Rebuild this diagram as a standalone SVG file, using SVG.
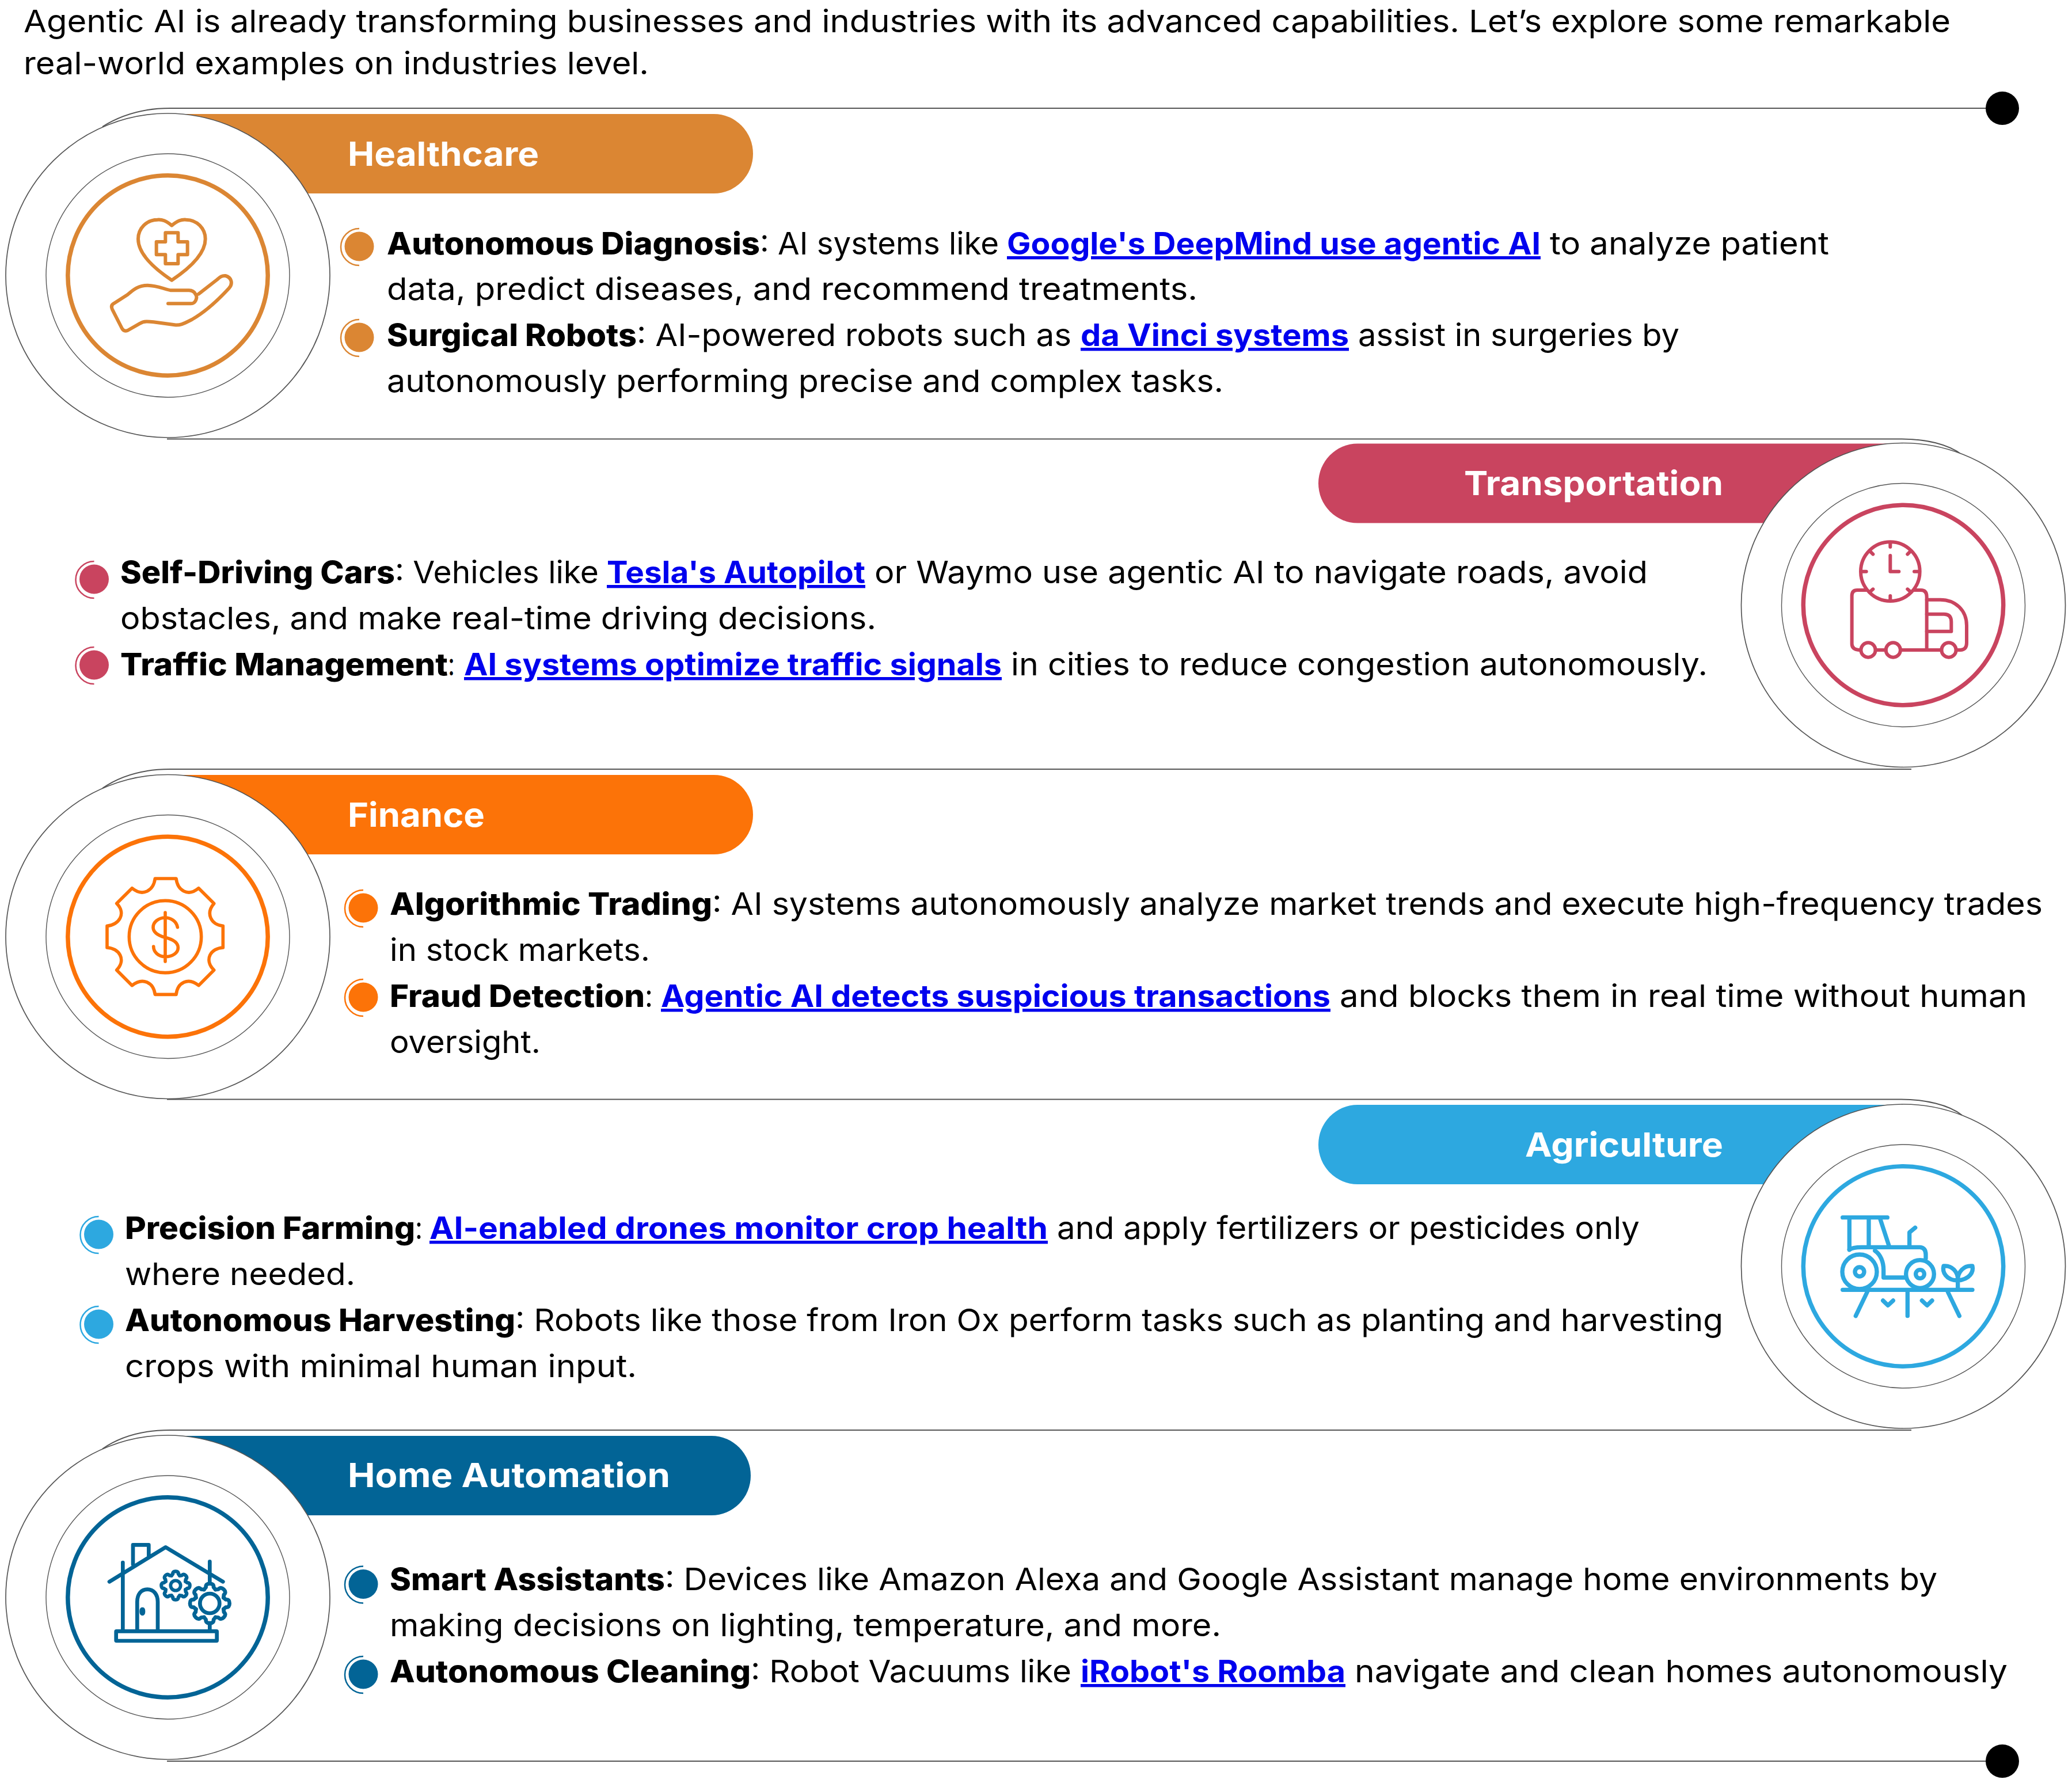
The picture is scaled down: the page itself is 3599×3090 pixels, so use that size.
<svg xmlns="http://www.w3.org/2000/svg" xmlns:xlink="http://www.w3.org/1999/xlink" width="3599" height="3090" viewBox="0 0 3599 3090">
<style>
text{font-family:"Inter","Liberation Sans",sans-serif;font-size:54px;fill:#000;white-space:normal}
.s{font-weight:800}
.l{font-weight:700;fill:#0000EE;text-decoration:underline}
.t{font-weight:700;font-size:58px;fill:#fff}
.ln{fill:none;stroke:#555;stroke-width:2}
.c1{fill:#fff;stroke:#555;stroke-width:1.7}
.c2{fill:none;stroke:#555;stroke-width:1.4}
.ic{fill:none;stroke-linecap:round;stroke-linejoin:round}
.r{fill:none;stroke-width:7.5}
.a{fill:none;stroke-width:2.5}
</style>
<defs>
<path id="tooth" d="M-29.8 -72L-20 -84Q-22 -103 0 -103Q22 -103 20 -84L29.8 -72"/>
<g id="gear">
<use xlink:href="#tooth"/><use xlink:href="#tooth" transform="rotate(45)"/><use xlink:href="#tooth" transform="rotate(90)"/><use xlink:href="#tooth" transform="rotate(135)"/><use xlink:href="#tooth" transform="rotate(180)"/><use xlink:href="#tooth" transform="rotate(225)"/><use xlink:href="#tooth" transform="rotate(270)"/><use xlink:href="#tooth" transform="rotate(315)"/>
</g>
</defs>
<rect width="3599" height="3090" fill="#fff"/>
<g id="intro">
<text y="56"><tspan x="41" textLength="3347" lengthAdjust="spacingAndGlyphs">Agentic AI is already transforming businesses and industries with its advanced capabilities. Let’s explore some remarkable</tspan></text>
<text y="129"><tspan x="41" textLength="1086" lengthAdjust="spacingAndGlyphs">real-world examples on industries level.</tspan></text>
</g>
<g id="connectors">
<path class="ln" d="M3478 188H295C250 188 210 200 178 220"/>
<path class="ln" d="M290 762.5H3300C3345 762 3385 772 3408 790"/>
<path class="ln" d="M3320 1336H295C250 1336 210 1347 178 1369"/>
<path class="ln" d="M290 1909.5H3300C3345 1909.5 3385 1919 3408 1937"/>
<path class="ln" d="M3320 2484H295C250 2484 210 2494.5 178 2516.5"/>
<path class="ln" d="M290 3059H3478"/>
<circle cx="3478" cy="188" r="29" fill="#000"/>
<circle cx="3478" cy="3059" r="29" fill="#000"/>
</g>
<g id="node-healthcare">
<path d="M290 198H1240A68 69 0 0 1 1240 336H290Z" fill="#DB8633"/>
<circle class="c1" cx="291.5" cy="478.5" r="281.5"/>
<circle class="c2" cx="291.5" cy="478.5" r="211.5"/>
<circle class="r" cx="291.5" cy="478.5" r="173.7" stroke="#DB8633"/>
<g class="ic" stroke="#DB8633" stroke-width="18" transform="translate(100 300) scale(.33333)">
<path d="M595 275C565 250 545 243 520 245C465 245 420 290 420 345C420 430 520 510 595 560C670 510 770 430 770 345C770 290 725 245 670 245C645 243 625 250 595 275Z"/>
<path d="M562 313H628V360H677V427H628V474H562V427H515V360H562Z"/>
<path d="M576 682H695C720 682 730 650 720 635C712 618 700 613 685 613H590C550 605 520 588 470 587C420 587 395 610 365 635L295 680Q275 690 285 712L335 810Q345 830 365 822L430 785C450 772 475 775 500 778L610 793C640 797 660 785 700 765C770 725 840 660 895 600C915 575 905 545 875 537C855 535 845 545 830 558L735 632"/>
</g>
<text class="t" y="288"><tspan x="604" textLength="332" lengthAdjust="spacingAndGlyphs">Healthcare</tspan></text>
<circle cx="624" cy="428" r="25.5" fill="#DB8633"/><path class="a" stroke="#DB8633" d="M624 397A32 32 0 0 0 624 461"/>
<circle cx="624" cy="586" r="25.5" fill="#DB8633"/><path class="a" stroke="#DB8633" d="M624 555A32 32 0 0 0 624 619"/>
<text y="442"><tspan class="s" x="672" textLength="648" lengthAdjust="spacingAndGlyphs">Autonomous Diagnosis</tspan><tspan x="1320" textLength="415" lengthAdjust="spacingAndGlyphs">: AI systems like</tspan> <tspan class="l" x="1749" textLength="927" lengthAdjust="spacingAndGlyphs">Google's DeepMind use agentic AI</tspan> <tspan x="2692" textLength="485" lengthAdjust="spacingAndGlyphs">to analyze patient</tspan></text>
<text y="521"><tspan x="672" textLength="1408" lengthAdjust="spacingAndGlyphs">data, predict diseases, and recommend treatments.</tspan></text>
<text y="601"><tspan class="s" x="672" textLength="434" lengthAdjust="spacingAndGlyphs">Surgical Robots</tspan><tspan x="1106" textLength="755" lengthAdjust="spacingAndGlyphs">: AI-powered robots such as</tspan> <tspan class="l" x="1877" textLength="466" lengthAdjust="spacingAndGlyphs">da Vinci systems</tspan> <tspan x="2359" textLength="558" lengthAdjust="spacingAndGlyphs">assist in surgeries by</tspan></text>
<text y="681"><tspan x="672" textLength="1453" lengthAdjust="spacingAndGlyphs">autonomously performing precise and complex tasks.</tspan></text>
</g>
<g id="node-transportation">
<path d="M3310 770.5H2358A68 69 0 0 0 2358 908.5H3310Z" fill="#C9445F"/>
<circle class="c1" cx="3306" cy="1051" r="281.5"/>
<circle class="c2" cx="3306" cy="1051" r="211.5"/>
<circle class="r" cx="3306" cy="1051" r="173.7" stroke="#C9445F"/>
<g class="ic" stroke="#C9445F" stroke-width="18" transform="translate(3120 880) scale(.33333)">
<circle cx="490" cy="338" r="154"/>
<path d="M490 190V210M490 465V488M345 338H365M615 338H635M385 233L400 248M595 233L580 248M385 443L400 430M595 443L580 430M490 255V338H535"/>
<path d="M365 435H318Q290 435 290 465V715Q290 745 328 747"/>
<path d="M413 747H467M543 747H757M833 747H855Q888 745 888 710V620C888 540 830 485 750 485H680"/>
<path d="M615 435H650Q680 435 680 470V747"/>
<path d="M680 560H770Q808 560 808 600V650H680"/>
<circle cx="375" cy="747" r="38"/><circle cx="505" cy="747" r="38"/><circle cx="795" cy="747" r="38"/>
</g>
<text class="t" y="860"><tspan x="2543" textLength="450" lengthAdjust="spacingAndGlyphs">Transportation</tspan></text>
<circle cx="163.5" cy="1006" r="25.5" fill="#C9445F"/><path class="a" stroke="#C9445F" d="M163.5 975A32 32 0 0 0 163.5 1039"/>
<circle cx="163.5" cy="1155" r="25.5" fill="#C9445F"/><path class="a" stroke="#C9445F" d="M163.5 1124A32 32 0 0 0 163.5 1188"/>
<text y="1013"><tspan class="s" x="209" textLength="477" lengthAdjust="spacingAndGlyphs">Self-Driving Cars</tspan><tspan x="686" textLength="354" lengthAdjust="spacingAndGlyphs">: Vehicles like</tspan> <tspan class="l" x="1054" textLength="449" lengthAdjust="spacingAndGlyphs">Tesla's Autopilot</tspan> <tspan x="1519" textLength="1343" lengthAdjust="spacingAndGlyphs">or Waymo use agentic AI to navigate roads, avoid</tspan></text>
<text y="1093"><tspan x="209" textLength="1313" lengthAdjust="spacingAndGlyphs">obstacles, and make real-time driving decisions.</tspan></text>
<text y="1173"><tspan class="s" x="209" textLength="569" lengthAdjust="spacingAndGlyphs">Traffic Management</tspan><tspan x="778" textLength="12" lengthAdjust="spacingAndGlyphs">:</tspan> <tspan class="l" x="806" textLength="934" lengthAdjust="spacingAndGlyphs">AI systems optimize traffic signals</tspan> <tspan x="1756" textLength="1210" lengthAdjust="spacingAndGlyphs">in cities to reduce congestion autonomously.</tspan></text>
</g>
<g id="node-finance">
<path d="M290 1346H1240A68 69 0 0 1 1240 1484H290Z" fill="#FC7308"/>
<circle class="c1" cx="291.5" cy="1627" r="281.5"/>
<circle class="c2" cx="291.5" cy="1627" r="211.5"/>
<circle class="r" cx="291.5" cy="1627" r="173.7" stroke="#FC7308"/>
<g class="ic" stroke="#FC7308" stroke-width="17" transform="translate(150 1490) scale(.33333)">
<circle cx="411" cy="411" r="188"/>
<path d="M411 285V540M475 362C470 330 440 312 411 312C375 312 348 335 348 362C348 390 375 405 411 415C450 425 478 440 478 468C478 495 450 515 411 515C375 515 350 490 350 462"/>
<path d="M358 108H468C475 170 530 205 585 158L665 238C620 290 650 350 712 355V468C650 470 610 530 665 585L585 665C530 620 475 650 468 712H358C350 650 295 620 238 665L158 585C210 530 170 470 108 468V355C170 350 210 290 158 238L238 158C295 205 350 170 358 108Z"/>
</g>
<text class="t" y="1436"><tspan x="604" textLength="238" lengthAdjust="spacingAndGlyphs">Finance</tspan></text>
<circle cx="631" cy="1577" r="25.5" fill="#FC7308"/><path class="a" stroke="#FC7308" d="M631 1546A32 32 0 0 0 631 1610"/>
<circle cx="631" cy="1732" r="25.5" fill="#FC7308"/><path class="a" stroke="#FC7308" d="M631 1701A32 32 0 0 0 631 1765"/>
<text y="1589"><tspan class="s" x="677" textLength="560" lengthAdjust="spacingAndGlyphs">Algorithmic Trading</tspan><tspan x="1237" textLength="2311" lengthAdjust="spacingAndGlyphs">: AI systems autonomously analyze market trends and execute high-frequency trades</tspan></text>
<text y="1669"><tspan x="677" textLength="452" lengthAdjust="spacingAndGlyphs">in stock markets.</tspan></text>
<text y="1749"><tspan class="s" x="677" textLength="443" lengthAdjust="spacingAndGlyphs">Fraud Detection</tspan><tspan x="1120" textLength="14" lengthAdjust="spacingAndGlyphs">:</tspan> <tspan class="l" x="1148" textLength="1163" lengthAdjust="spacingAndGlyphs">Agentic AI detects suspicious transactions</tspan> <tspan x="2327" textLength="1194" lengthAdjust="spacingAndGlyphs">and blocks them in real time without human</tspan></text>
<text y="1829"><tspan x="677" textLength="262" lengthAdjust="spacingAndGlyphs">oversight.</tspan></text>
</g>
<g id="node-agriculture">
<path d="M3310 1919H2358A68 69 0 0 0 2358 2057H3310Z" fill="#2DA8E0"/>
<circle class="c1" cx="3306" cy="2199.5" r="281.5"/>
<circle class="c2" cx="3306" cy="2199.5" r="211.5"/>
<circle class="r" cx="3306" cy="2199.5" r="173.7" stroke="#2DA8E0"/>
<g class="ic" stroke="#2DA8E0" stroke-width="22" transform="translate(3150 2069) scale(.33333)">
<path d="M152 514H828M280 525L220 650M490 525V650M700 525L760 650M362 570L388 595L415 570M565 570L592 595L618 570M152 137H385M187 137V305M288 137V290M345 137L395 290"/>
<path d="M187 305C200 295 225 292 250 292H555Q585 295 585 330V350M500 290V215L530 190M320 310C350 330 365 370 365 410V450H475"/>
<circle cx="240" cy="420" r="90"/><circle cx="240" cy="420" r="24"/>
<circle cx="555" cy="432" r="73"/><circle cx="555" cy="432" r="22"/>
<path d="M752 470V510M752 465C690 465 670 420 678 390C720 385 755 420 752 465C815 460 835 420 828 390C785 385 750 420 752 465"/>
</g>
<text class="t" y="2009"><tspan x="2649" textLength="344" lengthAdjust="spacingAndGlyphs">Agriculture</tspan></text>
<circle cx="171.5" cy="2144" r="25.5" fill="#2DA8E0"/><path class="a" stroke="#2DA8E0" d="M171.5 2113A32 32 0 0 0 171.5 2177"/>
<circle cx="171.5" cy="2300" r="25.5" fill="#2DA8E0"/><path class="a" stroke="#2DA8E0" d="M171.5 2269A32 32 0 0 0 171.5 2333"/>
<text y="2152"><tspan class="s" x="217" textLength="504" lengthAdjust="spacingAndGlyphs">Precision Farming</tspan><tspan x="721" textLength="13" lengthAdjust="spacingAndGlyphs">:</tspan> <tspan class="l" x="746" textLength="1074" lengthAdjust="spacingAndGlyphs">AI-enabled drones monitor crop health</tspan> <tspan x="1836" textLength="1012" lengthAdjust="spacingAndGlyphs">and apply fertilizers or pesticides only</tspan></text>
<text y="2232"><tspan x="217" textLength="400" lengthAdjust="spacingAndGlyphs">where needed.</tspan></text>
<text y="2312"><tspan class="s" x="217" textLength="678" lengthAdjust="spacingAndGlyphs">Autonomous Harvesting</tspan><tspan x="895" textLength="2098" lengthAdjust="spacingAndGlyphs">: Robots like those from Iron Ox perform tasks such as planting and harvesting</tspan></text>
<text y="2392"><tspan x="217" textLength="889" lengthAdjust="spacingAndGlyphs">crops with minimal human input.</tspan></text>
</g>
<g id="node-home-automation">
<path d="M290 2494H1236A68 69 0 0 1 1236 2632H290Z" fill="#026496"/>
<circle class="c1" cx="291.5" cy="2774.5" r="281.5"/>
<circle class="c2" cx="291.5" cy="2774.5" r="211.5"/>
<circle class="r" cx="291.5" cy="2774.5" r="173.7" stroke="#026496"/>
<g class="ic" stroke="#026496" stroke-width="20" transform="translate(150 2659) scale(.33333)">
<rect x="155" y="523" width="525" height="50" rx="2"/>
<path d="M190 165V520M643 160V265M643 480V520M120 265L413 85L712 265M243 175V73H325V130M265 520V370C265 330 285 305 318 305C350 305 372 330 372 370V520"/>
<ellipse cx="292" cy="420" rx="5" ry="12"/>
<g transform="translate(643 378)"><use xlink:href="#gear"/><circle r="51"/></g>
<g transform="translate(465 285) scale(.72)"><use xlink:href="#gear" stroke-width="26"/><circle r="36" stroke-width="24"/></g>
</g>
<text class="t" y="2583"><tspan x="604" textLength="560" lengthAdjust="spacingAndGlyphs">Home Automation</tspan></text>
<circle cx="631" cy="2751.5" r="25.5" fill="#026496"/><path class="a" stroke="#026496" d="M631 2720.5A32 32 0 0 0 631 2784.5"/>
<circle cx="631" cy="2908" r="25.5" fill="#026496"/><path class="a" stroke="#026496" d="M631 2877A32 32 0 0 0 631 2941"/>
<text y="2762"><tspan class="s" x="677" textLength="478" lengthAdjust="spacingAndGlyphs">Smart Assistants</tspan><tspan x="1155" textLength="2210" lengthAdjust="spacingAndGlyphs">: Devices like Amazon Alexa and Google Assistant manage home environments by</tspan></text>
<text y="2842"><tspan x="677" textLength="1444" lengthAdjust="spacingAndGlyphs">making decisions on lighting, temperature, and more.</tspan></text>
<text y="2922"><tspan class="s" x="677" textLength="627" lengthAdjust="spacingAndGlyphs">Autonomous Cleaning</tspan><tspan x="1304" textLength="557" lengthAdjust="spacingAndGlyphs">: Robot Vacuums like</tspan> <tspan class="l" x="1877" textLength="460" lengthAdjust="spacingAndGlyphs">iRobot's Roomba</tspan> <tspan x="2353" textLength="1134" lengthAdjust="spacingAndGlyphs">navigate and clean homes autonomously</tspan></text>
</g>
</svg>
